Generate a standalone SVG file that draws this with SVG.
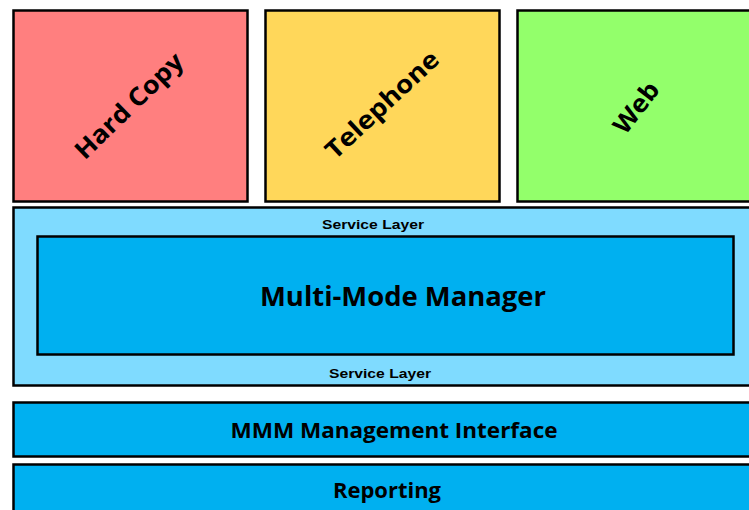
<svg xmlns="http://www.w3.org/2000/svg" width="749" height="510" viewBox="0 0 749 510">
<style>
.box{stroke:#000;stroke-width:2.5}
.big{font-family:"Open Sans","Noto Sans",sans-serif;font-weight:bold;fill:#000;text-anchor:middle}
.small{font-family:"Liberation Sans",Arial,sans-serif;font-weight:bold;font-size:13px;fill:#000;text-anchor:middle}
</style>
<rect width="749" height="510" fill="#fff"/>
<g id="hardcopy">
<rect class="box" x="13.5" y="10.5" width="234" height="191" fill="#FF7F7F"/>
<text class="big" font-size="25" transform="translate(135,112) rotate(-44)" textLength="140" lengthAdjust="spacingAndGlyphs">Hard Copy</text>
</g>
<g id="telephone">
<rect class="box" x="265.5" y="10.5" width="234" height="191" fill="#FFD75A"/>
<text class="big" font-size="25" transform="translate(388,111) rotate(-43)" textLength="145" lengthAdjust="spacingAndGlyphs">Telephone</text>
</g>
<g id="web">
<rect class="box" x="517.5" y="10.5" width="234" height="191" fill="#93FF6B"/>
<text class="big" font-size="25" transform="translate(643,113) rotate(-52)" textLength="58" lengthAdjust="spacingAndGlyphs">Web</text>
</g>
<g id="servicelayer">
<rect class="box" x="13.5" y="207.5" width="740" height="178" fill="#7FDBFF"/>
<text class="small" x="373" y="229" textLength="102" lengthAdjust="spacingAndGlyphs">Service Layer</text>
<text class="small" x="380" y="378" textLength="102" lengthAdjust="spacingAndGlyphs">Service Layer</text>
</g>
<g id="mmm">
<rect class="box" x="37.5" y="236.5" width="696" height="118" fill="#00B0F0"/>
<text class="big" font-size="26" x="403" y="306" textLength="286" lengthAdjust="spacingAndGlyphs">Multi-Mode Manager</text>
</g>
<g id="mgmt">
<rect class="box" x="13.5" y="402.5" width="740" height="54" fill="#00B0F0"/>
<text class="big" font-size="21" x="394" y="438" textLength="327" lengthAdjust="spacingAndGlyphs">MMM Management Interface</text>
</g>
<g id="reporting">
<rect class="box" x="13.5" y="464.5" width="740" height="50" fill="#00B0F0"/>
<text class="big" font-size="21" x="387" y="498" textLength="108" lengthAdjust="spacingAndGlyphs">Reporting</text>
</g>
<g id="connectors"/>
</svg>
